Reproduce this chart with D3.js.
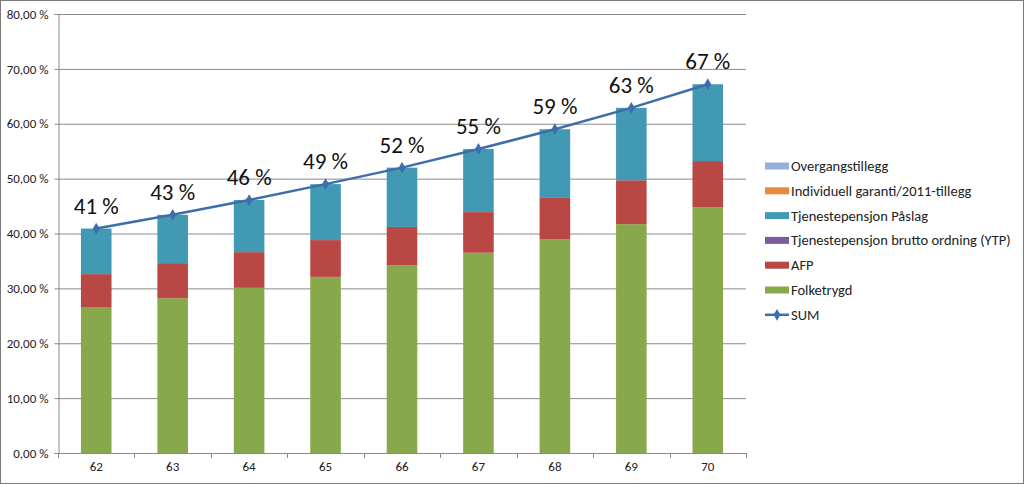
<!DOCTYPE html>
<html><head><meta charset="utf-8">
<script src="https://cdn.jsdelivr.net/npm/d3@7"></script>
<style>
body{margin:0;background:#fff;}
svg{display:block;font-family:Carlito,Lato,"Liberation Sans",Arial,sans-serif;}
</style></head>
<body><svg id="c" width="1024" height="484"></svg>
<script>
const categories = ["62","63","64","65","66","67","68","69","70"];
const folketrygd = [26.5, 28.2, 30.1, 32.1, 34.2, 36.5, 38.9, 41.7, 44.8];
const afp        = [6.1, 6.4, 6.5, 6.7, 7.0, 7.4, 7.7, 8.0, 8.4];
const ytp        = [0, 0, 0, 0, 0, 0, 0, 0, 0];
const paslag     = [8.3, 8.8, 9.5, 10.2, 10.8, 11.5, 12.4, 13.2, 14.0];
const garanti    = [0, 0, 0, 0, 0, 0, 0, 0, 0];
const overgang   = [0, 0, 0, 0, 0, 0, 0, 0, 0];
const sum        = [40.9, 43.4, 46.1, 49.0, 52.0, 55.4, 59.0, 62.9, 67.2];
const sumLabels  = ["41 %","43 %","46 %","49 %","52 %","55 %","59 %","63 %","67 %"];
const yTicks     = [0,10,20,30,40,50,60,70,80];

const seriesNames = ["Folketrygd","AFP","Tjenestepensjon brutto ordning (YTP)","Tjenestepensjon Påslag","Individuell garanti/2011-tillegg","Overgangstillegg"];
const seriesData = [folketrygd, afp, ytp, paslag, garanti, overgang];
const colors = ["#88A84C","#B94743","#7A5C9E","#4299B4","#E8893C","#95B0DC"];
const lineColor = "#3D6DAA";
const FF = "Carlito,Lato,'Liberation Sans',Arial,sans-serif";

const svg = d3.select("#c");
const W=1024,H=484;
svg.append("rect").attr("x",0.5).attr("y",0.5).attr("width",W-1).attr("height",H-1)
  .attr("fill","#fff").attr("stroke","#7a7a7a");

const m = {l:58, r:746, t:14, b:453};
const x = d3.scaleBand().domain(categories).range([m.l,m.r]).paddingInner(0.6).paddingOuter(0.3);
const xo = d3.scaleBand().domain(categories).range([m.l,m.r]);
const y = d3.scaleLinear().domain([0,80]).range([m.b,m.t]);

// gridlines
svg.append("g").selectAll("line").data(yTicks.filter(d=>d>0)).join("line")
  .attr("x1",m.l).attr("x2",m.r).attr("y1",d=>y(d)+0.5).attr("y2",d=>y(d)+0.5)
  .attr("stroke","#8a8a8a").attr("stroke-width",1);

// stacked bars
const rows = categories.map((c,i)=>{const o={cat:c}; seriesNames.forEach((n,j)=>o[n]=seriesData[j][i]); return o;});
const stack = d3.stack().keys(seriesNames)(rows);
svg.append("g").selectAll("g").data(stack).join("g").attr("fill",(d,i)=>colors[i])
  .selectAll("rect").data(d=>d).join("rect")
  .attr("x",d=>x(d.data.cat)).attr("width",x.bandwidth())
  .attr("y",d=>y(d[1])).attr("height",d=>Math.max(0,y(d[0])-y(d[1])));

// y axis
const ya = svg.append("g").attr("transform",`translate(${m.l+0.5},0)`)
  .call(d3.axisLeft(y).tickValues(yTicks).tickSize(4).tickFormat(d=>d3.format(".2f")(d).replace(".",",")+" %"));
ya.select(".domain").attr("stroke","#8a8a8a");
ya.selectAll(".tick line").attr("stroke","#8a8a8a");
ya.selectAll("text").attr("font-size",13).attr("fill","#222").attr("x",-10)
  .style("font-family",FF);

// x axis
const xa = svg.append("g").attr("transform",`translate(0,${m.b+0.5})`)
  .call(d3.axisBottom(x).tickSize(0).tickPadding(8));
xa.select(".domain").remove();
svg.append("line").attr("x1",m.l).attr("x2",m.r).attr("y1",m.b+0.5).attr("y2",m.b+0.5).attr("stroke","#8a8a8a");
svg.append("g").selectAll("line").data(categories.concat(["end"])).join("line")
  .attr("x1",(d,i)=>Math.round(m.l+i*xo.bandwidth())+0.5).attr("x2",(d,i)=>Math.round(m.l+i*xo.bandwidth())+0.5)
  .attr("y1",m.b).attr("y2",m.b+5).attr("stroke","#8a8a8a");
xa.selectAll("text").attr("font-size",13).attr("fill","#222")
  .style("font-family",FF);

// SUM line
const cx = c=>x(c)+x.bandwidth()/2;
svg.append("path").datum(sum).attr("fill","none").attr("stroke",lineColor).attr("stroke-width",2.5)
  .attr("d",d3.line().x((d,i)=>cx(categories[i])).y(d=>y(d)));
svg.append("g").selectAll("path").data(sum).join("path")
  .attr("d",d3.symbol(d3.symbolDiamond,40)())
  .attr("transform",(d,i)=>`translate(${cx(categories[i])},${y(d)})`).attr("fill",lineColor);
svg.append("g").selectAll("text").data(sum).join("text")
  .attr("x",(d,i)=>cx(categories[i])).attr("y",d=>y(d)-15)
  .attr("text-anchor","middle").attr("font-size",23).attr("fill","#111")
  .style("font-family",FF)
  .text((d,i)=>sumLabels[i]);

// legend
const legItems = [
  {n:"Overgangstillegg",c:colors[5]},
  {n:"Individuell garanti/2011-tillegg",c:colors[4]},
  {n:"Tjenestepensjon Påslag",c:colors[3]},
  {n:"Tjenestepensjon brutto ordning (YTP)",c:colors[2]},
  {n:"AFP",c:colors[1]},
  {n:"Folketrygd",c:colors[0]},
  {n:"SUM",c:lineColor,line:true}
];
const lg = svg.append("g").selectAll("g").data(legItems).join("g")
  .attr("transform",(d,i)=>`translate(765,${166+i*24.8})`);
lg.filter(d=>!d.line).append("rect").attr("x",0).attr("y",-3.5).attr("width",24).attr("height",7).attr("fill",d=>d.c);
lg.filter(d=>d.line).append("line").attr("x1",0).attr("x2",24).attr("y1",0).attr("y2",0).attr("stroke",d=>d.c).attr("stroke-width",2.5);
lg.filter(d=>d.line).append("path").attr("d",d3.symbol(d3.symbolDiamond,40)()).attr("transform","translate(12,0)").attr("fill",d=>d.c);
lg.append("text").attr("x",26).attr("y",0).attr("dy","0.35em").attr("font-size",14.5).attr("fill","#222")
  .style("font-family",FF).text(d=>d.n);
</script></body></html>
